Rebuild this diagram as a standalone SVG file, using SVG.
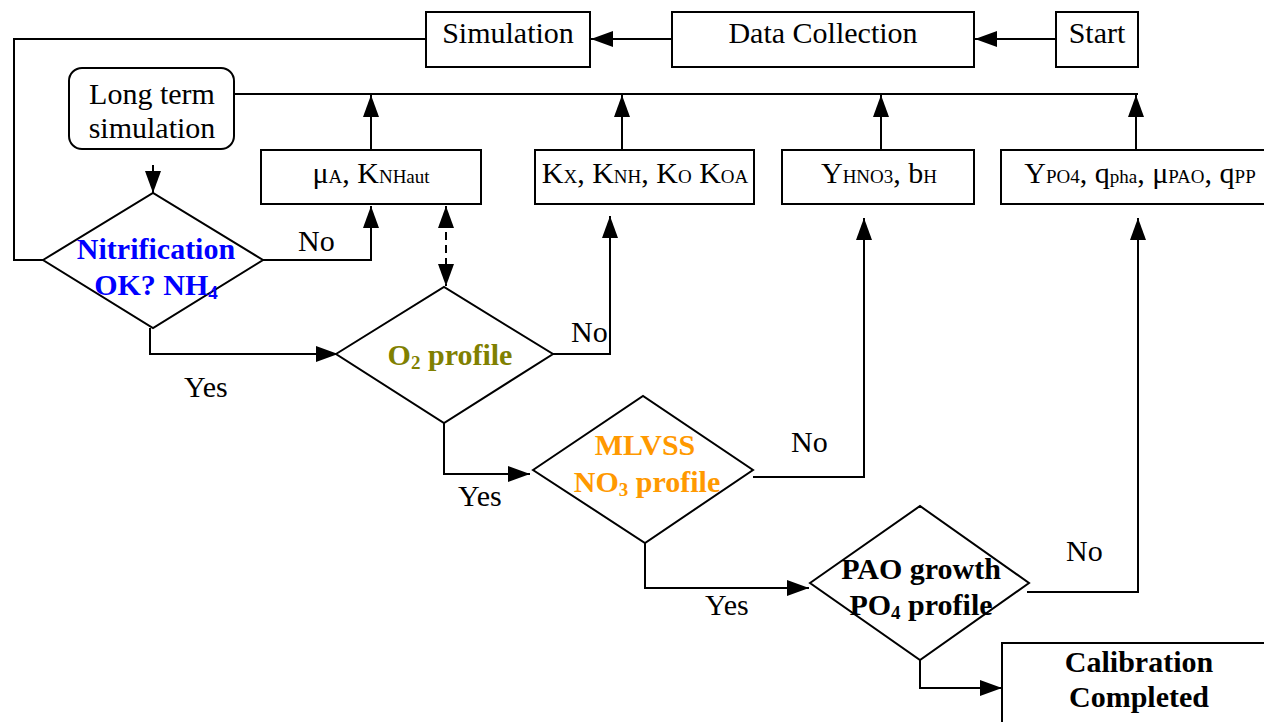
<svg xmlns="http://www.w3.org/2000/svg" width="1264" height="722" viewBox="0 0 1264 722">
<style>
.bx{fill:#fff;stroke:#000;stroke-width:2}
.t{font-family:"Liberation Serif","Times New Roman",serif;font-size:30px;fill:#000;text-anchor:middle}
.b{font-family:"Liberation Serif","Times New Roman",serif;font-size:30px;font-weight:bold;text-anchor:middle}
.l{font-family:"Liberation Serif","Times New Roman",serif;font-size:30px;fill:#000}
.c{fill:none;stroke:#000;stroke-width:2}
.s{font-size:19px}
</style>
<defs>
<marker id="ah" markerUnits="userSpaceOnUse" markerWidth="24" markerHeight="18" refX="22" refY="8" orient="auto">
<path d="M0,0 L22,8 L0,16 Z" fill="#000"/>
</marker>
<marker id="ahs" markerUnits="userSpaceOnUse" markerWidth="24" markerHeight="18" refX="0" refY="8" orient="auto">
<path d="M22,0 L0,8 L22,16 Z" fill="#000"/>
</marker>
</defs>
<rect width="1264" height="722" fill="#fff"/>
<g id="connectors">
<line class="c" x1="1056" y1="39" x2="975" y2="39" marker-end="url(#ah)"/>
<line class="c" x1="672" y1="39" x2="591" y2="39" marker-end="url(#ah)"/>
<polyline class="c" points="426,39 14,39 14,260 43,260"/>
<line class="c" x1="153" y1="165" x2="153" y2="193" marker-end="url(#ah)"/>
<line class="c" x1="234" y1="94" x2="1138" y2="94"/>
<line class="c" x1="371" y1="150" x2="371" y2="95" marker-end="url(#ah)"/>
<line class="c" x1="622" y1="150" x2="622" y2="95" marker-end="url(#ah)"/>
<line class="c" x1="881" y1="150" x2="881" y2="95" marker-end="url(#ah)"/>
<line class="c" x1="1136" y1="150" x2="1136" y2="95" marker-end="url(#ah)"/>
<polyline class="c" points="263,260 371,260 371,206" marker-end="url(#ah)"/>
<line class="c" x1="446" y1="206" x2="446" y2="286" stroke-dasharray="8,5" marker-start="url(#ahs)" marker-end="url(#ah)"/>
<polyline class="c" points="150,328 150,354 338,354" marker-end="url(#ah)"/>
<polyline class="c" points="553,354 610,354 610,216" marker-end="url(#ah)"/>
<polyline class="c" points="753,477 864,477 864,218" marker-end="url(#ah)"/>
<polyline class="c" points="444,423 444,474 530,474" marker-end="url(#ah)"/>
<polyline class="c" points="645,543 645,588 809,588" marker-end="url(#ah)"/>
<polyline class="c" points="1027,592 1138,592 1138,218" marker-end="url(#ah)"/>
<polyline class="c" points="920,660 920,688 1002,688" marker-end="url(#ah)"/>
<text class="l" x="298" y="251">No</text>
<text class="l" x="184" y="397">Yes</text>
<text class="l" x="571" y="342">No</text>
<text class="l" x="458" y="506">Yes</text>
<text class="l" x="791" y="452">No</text>
<text class="l" x="705" y="615">Yes</text>
<text class="l" x="1066" y="561">No</text>
</g>
<g id="start"><rect class="bx" x="1056" y="12" width="82" height="55"/><text class="t" x="1097" y="43">Start</text></g>
<g id="data-collection"><rect class="bx" x="672" y="12" width="302" height="55"/><text class="t" x="823" y="43">Data Collection</text></g>
<g id="simulation"><rect class="bx" x="426" y="12" width="164" height="55"/><text class="t" x="508" y="43">Simulation</text></g>
<g id="long-term"><rect class="bx" x="69" y="68" width="165" height="81" rx="13"/><text class="t" x="152" y="104">Long term</text><text class="t" x="152" y="138">simulation</text></g>
<g id="p-nitr"><rect class="bx" x="261" y="150" width="220" height="54"/><text class="t" x="371" y="183">μ<tspan class="s">A</tspan>, K<tspan class="s">NHaut</tspan></text></g>
<g id="p-kx"><rect class="bx" x="535" y="150" width="219" height="54"/><text class="t" x="645" y="183">K<tspan class="s">X</tspan>, K<tspan class="s">NH</tspan>, K<tspan class="s">O</tspan> K<tspan class="s">OA</tspan></text></g>
<g id="p-yh"><rect class="bx" x="782" y="150" width="192" height="54"/><text class="t" x="879" y="183">Y<tspan class="s">HNO3</tspan>, b<tspan class="s">H</tspan></text></g>
<g id="p-pao"><rect class="bx" x="1001" y="150" width="268" height="54"/><text class="t" x="1140" y="183">Y<tspan class="s">PO4</tspan>, q<tspan class="s">pha</tspan>, μ<tspan class="s">PAO</tspan>, q<tspan class="s">PP</tspan></text></g>
<g id="nitrification"><polygon class="bx" points="43,260 153,193 263,260 153,328"/><text class="b" x="156" y="259" fill="#0000FF">Nitrification</text><text class="b" x="156" y="295" fill="#0000FF">OK? NH<tspan class="s" dy="4">4</tspan></text></g>
<g id="o2"><polygon class="bx" points="336,354 444,287 553,354 444,423"/><text class="b" x="450" y="365" fill="#808000">O<tspan class="s" dy="4">2</tspan><tspan dy="-4"> profile</tspan></text></g>
<g id="mlvss"><polygon class="bx" points="533,470 643,396 753,470 645,543"/><text class="b" x="645" y="455" fill="#FF9900">MLVSS</text><text class="b" x="647" y="492" fill="#FF9900">NO<tspan class="s" dy="4">3</tspan><tspan dy="-4"> profile</tspan></text></g>
<g id="pao"><polygon class="bx" points="810,583 920,506 1029,583 920,660"/><text class="b" x="921" y="579" fill="#000">PAO growth</text><text class="b" x="921" y="615" fill="#000">PO<tspan class="s" dy="4">4</tspan><tspan dy="-4"> profile</tspan></text></g>
<g id="calibration"><rect class="bx" x="1002" y="643" width="270" height="90"/><text class="b" x="1139" y="672" fill="#000">Calibration</text><text class="b" x="1139" y="707" fill="#000">Completed</text></g>
</svg>
